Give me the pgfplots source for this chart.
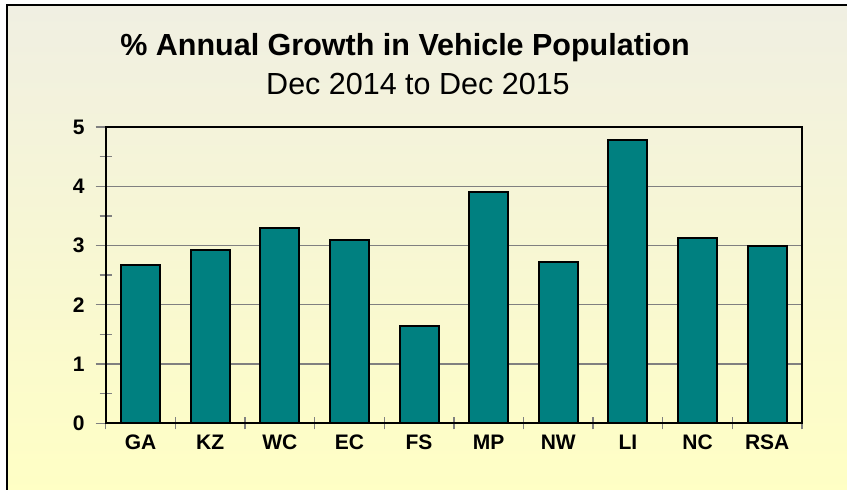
\documentclass[border=0pt]{standalone}
\usepackage{pgfplots}
\pgfplotsset{compat=1.18}
\usepackage{fontspec}
\setmainfont{Liberation Sans}
\definecolor{barcol}{RGB}{0,128,128}
\definecolor{bgtop}{RGB}{240,239,226}
\definecolor{bgbot}{RGB}{255,255,196}
\definecolor{gridcol}{RGB}{128,128,128}
\begin{document}
\begin{tikzpicture}[x=1pt,y=1pt]
\useasboundingbox (0,0) rectangle (847,490);
\begin{scope}
\clip (0,0) rectangle (847,490);
\shade[top color=bgtop, bottom color=bgbot] (7,-10) rectangle (870,485);
\draw[line width=2.5pt] (7,-10) -- (7,485) -- (870,485);
\end{scope}
\node[anchor=base, font=\fontsize{30.5}{34}\selectfont\bfseries] at (405,434) {\% Annual Growth in Vehicle Population};
\node[anchor=base, font=\fontsize{30.5}{34}\selectfont] at (418,395) {Dec 2014 to Dec 2015};
\begin{axis}[
  at={(105.7pt,66.7pt)}, anchor=south west,
  scale only axis, width=696.3pt, height=296.3pt,
  xmin=-0.5, xmax=9.5, ymin=0, ymax=5,
  ytick={0,1,2,3,4,5},
  minor ytick={0.5,1.5,2.5,3.5,4.5},
  xtick={0,1,2,3,4,5,6,7,8,9},
  xticklabels={GA,KZ,WC,EC,FS,MP,NW,LI,NC,RSA},
  minor xtick={-0.5,0.5,1.5,2.5,3.5,4.5,5.5,6.5,7.5,8.5,9.5},
  tick pos=left,
  tick align=center,
  major tick length=20pt,
  minor tick length=12pt,
  x tick style={draw=none},
  minor x tick style={draw=gridcol, line width=1.3pt},
  y tick style={draw=gridcol, line width=1.3pt},
  minor y tick style={draw=gridcol, line width=1.3pt},
  ymajorgrids,
  major grid style={gridcol, line width=1.3pt},
  axis line style={black, line width=1.8pt},
  /pgf/number format/assume math mode=true,
  ticklabel style={font=\fontsize{21}{22}\selectfont\bfseries, inner sep=0pt},
  yticklabel style={anchor=east, xshift=-11pt},
  xticklabel style={anchor=north, text height=15pt, text depth=0pt, yshift=-1pt},
]
\addplot[ybar, bar width=0.56, fill=barcol, draw=black, line width=2pt]
  coordinates {(0,2.67) (1,2.92) (2,3.29) (3,3.10) (4,1.65) (5,3.91) (6,2.72) (7,4.78) (8,3.13) (9,2.99)};
\end{axis}
\end{tikzpicture}
\end{document}
